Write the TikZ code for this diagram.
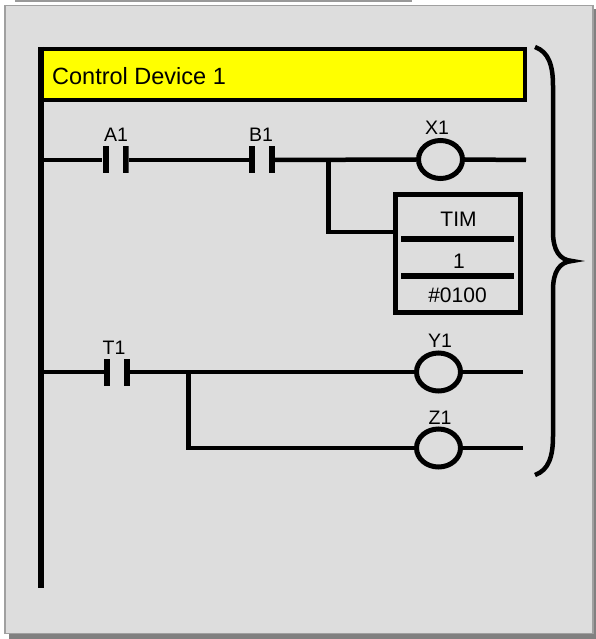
\documentclass[tikz,border=0pt]{standalone}
\usepackage{fontspec}
\setmainfont{Liberation Sans}
\usetikzlibrary{shapes.geometric}
\definecolor{panelgray}{HTML}{DDDDDD}
\definecolor{panelborder}{HTML}{A0A0A0}
\definecolor{shadowgray}{HTML}{808080}
\definecolor{stripgray}{HTML}{999999}
\definecolor{headyellow}{HTML}{FFFF00}
\begin{document}
\begin{tikzpicture}[x=1pt,y=-1pt,
  wire/.style={line width=4.5pt, line join=miter},
  contact/.style={rectangle, minimum width=26pt, minimum height=27pt, inner sep=0pt,
    path picture={
      \fill (path picture bounding box.south west) rectangle ([xshift=6pt]path picture bounding box.north west);
      \fill ([xshift=-6pt]path picture bounding box.south east) rectangle (path picture bounding box.north east);}},
  coil/.style={ellipse, draw, line width=5pt, minimum width=44pt, minimum height=38pt, inner sep=0pt},
  lbl/.style={font=\fontsize{19.5}{22}\selectfont, inner sep=0pt, anchor=base},
  timtxt/.style={font=\fontsize{21}{24}\selectfont, inner sep=0pt, anchor=base},
  timbox/.style={draw, line width=5pt, minimum width=125pt, minimum height=118pt, inner sep=0pt},
  header/.style={draw, fill=headyellow, line width=4pt, minimum width=485pt, minimum height=51pt, inner sep=0pt}
]
\useasboundingbox (0,0) rectangle (596,639);
% background panel
\fill[stripgray] (15,0) rectangle (412,2.5);
\fill[shadowgray] (9,9) rectangle (596,639);
\filldraw[fill=panelgray, draw=panelborder, line width=1.5pt] (4.75,5.75) rectangle (592.75,633.25);

% header
\node[header] (head) at (282.5,74.5) {};
\node[font=\fontsize{23.5}{26}\selectfont, inner sep=0pt, anchor=base west] (title) at (52,85) {Control Device 1};

% left rail
\coordinate (railtop) at (41,47);
\coordinate (railbot) at (41,588);
\draw[line width=5.5pt] (railtop) -- (railbot);

% rung 1
\coordinate (r1) at (41,160);
\node[contact] (A1) at (115.5,160) {};
\node[contact] (B1) at (262,160) {};
\node[coil] (X1) at (440.5,159.5) {};
\coordinate (e1) at (526,160);
\coordinate (j1) at (328.5,160);
\coordinate (j1b) at (328.5,232);
\node[timbox] (tim) at (458,253.5) {};
\draw[wire] (r1) -- (A1.west);
\draw[wire] (A1.east) -- (B1.west);
\draw[wire] (B1.east) -- (X1.west);
\draw[wire] (X1.east) -- (e1);
\draw[wire] (j1) |- (j1b -| tim.west);
\node[lbl] (lA1) at (116,142) {A1};
\node[lbl] (lB1) at (261,142) {B1};
\node[lbl] (lX1) at (437,135) {X1};
% timer box contents
\draw[line width=5.5pt] (401,239) -- (514,239);
\draw[line width=5.5pt] (401,276) -- (514,276);
\node[timtxt] (timname) at (458.5,226) {TIM};
\node[timtxt] (timnum) at (459,268) {1};
\node[timtxt] (timset) at (457.5,302.5) {\#0100};

% rung 2
\coordinate (r2) at (41,372);
\node[contact] (T1) at (117,372) {};
\node[coil] (Y1) at (438.5,372) {};
\node[coil] (Z1) at (438.5,448) {};
\coordinate (e2) at (523,372);
\coordinate (e3) at (523,448);
\coordinate (j2) at (188.5,372);
\draw[wire] (r2) -- (T1.west);
\draw[wire] (T1.east) -- (Y1.west);
\draw[wire] (Y1.east) -- (e2);
\draw[wire] (j2) |- (Z1.west);
\draw[wire] (Z1.east) -- (e3);
\node[lbl] (lT1) at (114,354) {T1};
\node[lbl] (lY1) at (440,347) {Y1};
\node[lbl] (lZ1) at (440,424) {Z1};

% brace
\coordinate (bt) at (535,47);
\coordinate (bm) at (572,261);
\coordinate (bb) at (535,475);
\draw[line width=4.5pt] (bt) .. controls (549,52) and (553,66) .. (553,86)
  -- (553,232) .. controls (553,251) and (560,260) .. (bm)
  .. controls (560,262) and (553,271) .. (553,290)
  -- (553,436) .. controls (553,456) and (549,470) .. (bb);
\end{tikzpicture}
\end{document}
